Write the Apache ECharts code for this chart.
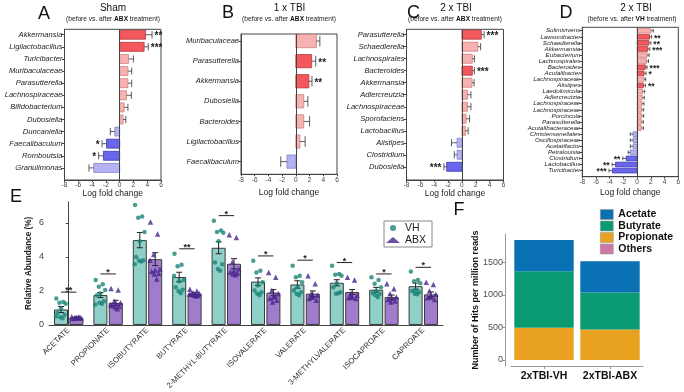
<!DOCTYPE html>
<html>
<head>
<meta charset="utf-8">
<title>Microbiome log fold change and SCFA</title>
<script src="https://cdn.jsdelivr.net/npm/echarts@6/dist/echarts.min.js"></script>
<style>
  html, body { margin: 0; padding: 0; background: #fff; }
  #chart { width: 684px; height: 392px; }
</style>
</head>
<body>
<div id="chart"></div>
<script>
const FONT = "'Liberation Sans', Arial, Helvetica, sans-serif";

// ---- A: Sham, before vs. after ABX
const shamNames = ['Akkermansia', 'Ligilactobacillus', 'Turicibacter', 'Muribaculaceae', 'Parasutterella', 'Lachnospiraceae',
  'Bifidobacterium', 'Dubosiella', 'Duncaniella', 'Faecalibaculum', 'Romboutsia', 'Granulimonas'];
const shamLfc = [3.75, 3.55, 1.3, 1.2, 1.2, 1.0, 0.65, 0.5, -0.7, -1.9, -2.35, -3.75];
const shamErr = [0.95, 0.6, 0.7, 0.55, 0.55, 0.7, 0.55, 0.4, 0.65, 0.65, 0.7, 0.7];
const shamSig = ['**', '***', '', '', '', '', '', '', '', '*', '*', ''];

// ---- B: 1 x TBI, before vs. after ABX
const tbi1Names = ['Muribaculaceae', 'Parasutterella', 'Akkermansia', 'Dubosiella', 'Bacteroides', 'Ligilactobacillus', 'Faecalibaculum'];
const tbi1Lfc = [3.0, 2.3, 1.9, 1.15, 1.15, 0.6, -1.3];
const tbi1Err = [0.5, 0.6, 0.45, 0.6, 0.85, 0.75, 0.9];
const tbi1Sig = ['', '**', '**', '', '', '', ''];

// ---- C: 2 x TBI, before vs. after ABX
const tbi2AbxNames = ['Parasutterella', 'Schaedlerella', 'Lachnospirales', 'Bacteroides', 'Akkermansia', 'Adlercreutzia',
  'Lachnospiraceae', 'Sporofaciens', 'Lactobacillus', 'Alistipes', 'Clostridium', 'Dubosiella'];
const tbi2AbxLfc = [2.8, 2.3, 1.5, 1.5, 1.45, 0.8, 0.8, 0.6, 0.5, -0.7, -0.7, -2.2];
const tbi2AbxErr = [0.4, 0.4, 0.3, 0.3, 0.3, 0.5, 0.5, 0.5, 0.4, 0.8, 0.4, 0.4];
const tbi2AbxSig = ['***', '', '', '***', '', '', '', '', '', '', '', '***'];

// ---- D: 2 x TBI, before vs. after VH
const tbi2VhNames = ['Sulimivivens', 'Lawsonibacter', 'Schaedlerella', 'Akkermansia', 'Eubacterium', 'Lachnospirales',
  'Bacteroides', 'Acutalibacter', 'Lachnospiraceae', 'Alistipes', 'Laedolimicola', 'Adlercreutzia', 'Lachnospiraceae',
  'Lachnospiraceae', 'Porcincola', 'Parasutterella', 'Acutalibacteraceae', 'Christensenellales', 'Oscillospiraceae',
  'Acetatifactor', 'Petralouisia', 'Clostridium', 'Lactobacillus', 'Turicibacter'];
const tbi2VhLfc = [2.0, 1.8, 1.7, 1.55, 1.45, 1.35, 1.2, 1.0, 1.0, 0.9, 0.8, 0.75, 0.7, 0.65, 0.65, 0.6, 0.6,
  -0.6, -0.6, -0.6, -1.0, -1.6, -3.15, -3.6];
const tbi2VhErr = [0.35, 0.3, 0.3, 0.3, 0.3, 0.3, 0.25, 0.3, 0.25, 0.3, 0.3, 0.3, 0.3, 0.3, 0.3, 0.3, 0.3,
  0.4, 0.4, 0.4, 0.3, 0.5, 0.5, 0.5];
const tbi2VhSig = ['', '**', '**', '***', '', '', '***', '*', '', '**', '', '', '', '', '', '', '',
  '', '', '', '', '**', '**', '***'];

// ---- E: SCFA relative abundance
const scfaNames = ['ACETATE', 'PROPIONATE', 'ISOBUTYRATE', 'BUTYRATE', '2-METHYL-BUTYRATE', 'ISOVALERATE',
  'VALERATE', '3-METHYLVALERATE', 'ISOCAPROATE', 'CAPROATE'];
const vhMean = [0.91, 1.76, 4.99, 2.82, 4.54, 2.55, 2.38, 2.48, 2.07, 2.28];
const abxMean = [0.43, 1.30, 3.87, 1.84, 3.60, 1.90, 1.84, 1.94, 1.64, 1.80];
const vhSem = [0.18, 0.15, 0.45, 0.28, 0.35, 0.22, 0.22, 0.18, 0.14, 0.18];
const abxSem = [0.03, 0.15, 0.38, 0.06, 0.30, 0.18, 0.16, 0.14, 0.12, 0.14];
const vhPoints = [
  [1.55, 1.35, 1.3, 1.25, 0.95, 0.7, 0.6, 0.45, 0.4, 0.5],
  [2.65, 2.4, 2.25, 2.05, 1.85, 1.75, 1.4, 1.3, 1.25, 1.2],
  [7.05, 6.38, 6.3, 5.47, 4.93, 4.0, 3.8, 3.77, 3.73, 3.57],
  [4.19, 3.54, 3.46, 2.65, 2.57, 2.22, 2.07, 1.99, 1.87, 2.9],
  [6.13, 5.55, 5.47, 5.43, 4.93, 3.67, 3.57, 3.29, 3.19],
  [3.77, 3.19, 3.09, 2.51, 2.32, 2.03, 1.93, 1.84, 1.74],
  [3.48, 2.9, 2.8, 2.51, 2.22, 2.03, 1.93, 1.84, 1.74],
  [3.48, 3.0, 2.96, 2.9, 2.45, 2.22, 1.93, 1.84, 1.87],
  [2.8, 2.65, 2.42, 2.22, 1.99, 1.87, 1.84, 1.74, 1.64],
  [3.15, 2.65, 2.57, 2.45, 2.03, 1.99, 1.93, 1.84, 1.8]
];
const abxPoints = [
  [0.48, 0.45, 0.42, 0.4, 0.44, 0.38, 0.46, 0.41, 0.43],
  [2.15, 2.05, 1.4, 1.3, 1.25, 1.15, 1.1, 1.05, 0.95, 1.2],
  [6.05, 5.35, 4.15, 3.29, 3.23, 3.15, 3.03, 3.0, 2.7, 3.8],
  [2.1, 2.0, 1.9, 1.85, 1.8, 1.8, 1.75, 1.75, 1.7, 1.8],
  [5.3, 5.15, 3.7, 3.3, 3.2, 3.1, 3.05, 3.0, 2.95],
  [3.09, 2.8, 2.03, 1.84, 1.64, 1.55, 1.45, 1.35, 1.7],
  [2.9, 2.42, 1.84, 1.74, 1.64, 1.55, 1.45, 1.68],
  [2.8, 2.65, 1.84, 1.74, 1.64, 1.6, 1.55, 1.68],
  [2.42, 2.13, 1.84, 1.64, 1.55, 1.49, 1.41, 1.35],
  [2.51, 2.38, 1.99, 1.8, 1.68, 1.6, 1.49, 1.64]
];
const sigStars = ['**', '*', '', '**', '*', '*', '*', '*', '*', '*'];
const sigLevel = [1.93, 3.0, 0, 4.48, 6.43, 4.06, 3.81, 3.67, 3.0, 3.39];

// ---- F: hits per million reads
const fGroups = ['2xTBI-VH', '2xTBI-ABX'];
const fPropionate = [495, 470];
const fButyrate = [867, 567];
const fAcetate = [480, 480];
const fOthers = [0, 0];

// log fold change panels: layout only
const lfcPanels = [
  { names: shamNames, lfc: shamLfc, err: shamErr, sig: shamSig,
    left: 64.5, top: 29.3, width: 96.5, height: 150.7, yMin: -0.45, yMax: 12.0, font: 7.6, bar: 0.74, star: 10, nameGap: 9 },
  { names: tbi1Names, lfc: tbi1Lfc, err: tbi1Err, sig: tbi1Sig,
    left: 241, top: 34, width: 96, height: 140.3, yMin: -0.35, yMax: 6.63, font: 7.5, bar: 0.66, star: 10, nameGap: 14 },
  { names: tbi2AbxNames, lfc: tbi2AbxLfc, err: tbi2AbxErr, sig: tbi2AbxSig,
    left: 406.5, top: 29.3, width: 97, height: 150.7, yMin: -0.45, yMax: 12.1, font: 7.6, bar: 0.75, star: 10, nameGap: 9 },
  { names: tbi2VhNames, lfc: tbi2VhLfc, err: tbi2VhErr, sig: tbi2VhSig,
    left: 582.3, top: 27.3, width: 96, height: 149.4, yMin: -0.56, yMax: 24.0, font: 6.2, bar: 0.77, star: 8.5, nameGap: 11 }
];

function lfcColor(v, star) {
  if (v >= 0) return star ? ['#f2585c', '#b8383c'] : ['#f6b1b1', '#d08080'];
  return star ? ['#6a66ec', '#3b37b5'] : ['#b4b2f3', '#8280c8'];
}

function lfcRender(p) {
  return function (params, api) {
    const v = api.value(0), k = api.value(1), e = api.value(2);
    const dir = v >= 0 ? 1 : -1;
    const base = api.coord([0, k]);
    const end = api.coord([v, k]);
    const tip = api.coord([v + dir * e, k]);
    const unit = api.size([0, 1])[1];
    const h = unit * p.bar;
    const cap = h * 0.8;
    const c = lfcColor(v, p.sig[k]);
    const ln = { stroke: '#333', lineWidth: 0.8 };
    const kids = [
      { type: 'rect', shape: { x: Math.min(base[0], end[0]), y: end[1] - h / 2, width: Math.abs(end[0] - base[0]), height: h },
        style: { fill: c[0], stroke: c[1], lineWidth: 0.8 } },
      { type: 'line', shape: { x1: end[0], y1: end[1], x2: tip[0], y2: tip[1] }, style: ln },
      { type: 'line', shape: { x1: tip[0], y1: tip[1] - cap / 2, x2: tip[0], y2: tip[1] + cap / 2 }, style: ln }
    ];
    if (p.sig[k]) {
      kids.push({ type: 'text', x: tip[0] + dir * 2.5, y: tip[1] + p.star * 0.18,
        style: { text: p.sig[k], font: 'bold ' + p.star + 'px ' + FONT, fill: '#222',
          align: dir > 0 ? 'left' : 'right', verticalAlign: 'middle' } });
    }
    return { type: 'group', children: kids };
  };
}

const grids = [], xAxes = [], yAxes = [], series = [];

lfcPanels.forEach((p, i) => {
  grids.push({ left: p.left, top: p.top, width: p.width, height: p.height, show: true,
    borderColor: '#444', borderWidth: 1, backgroundColor: 'transparent' });
  xAxes.push({
    type: 'value', gridIndex: i, min: -8, max: 6, interval: 2,
    axisLine: { show: true, onZero: false, lineStyle: { color: '#444', width: 1 } },
    axisTick: { show: true, length: 2, lineStyle: { color: '#444' } },
    axisLabel: { fontSize: 6.5, color: '#444', margin: 2, fontFamily: FONT },
    splitLine: { show: false },
    name: 'Log fold change', nameLocation: 'middle', nameGap: p.nameGap, nameMoveOverlap: false,
    nameTextStyle: { fontSize: 8.5, color: '#222', fontFamily: FONT }
  });
  yAxes.push({
    type: 'value', gridIndex: i, inverse: true, min: p.yMin, max: p.yMax,
    axisLine: { show: true, onZero: false, lineStyle: { color: '#444', width: 1 } },
    axisTick: { show: true, length: 2.5, customValues: p.names.map((n, k) => k), lineStyle: { color: '#444' } },
    axisLabel: { show: true, customValues: p.names.map((n, k) => k), formatter: (v) => p.names[v] || '',
      fontSize: p.font, fontStyle: 'italic', color: '#222', margin: 2, fontFamily: FONT },
    splitLine: { show: false }
  });
  series.push({
    type: 'custom', name: 'lfc' + i, xAxisIndex: i, yAxisIndex: i, clip: false,
    renderItem: lfcRender(p),
    encode: { x: 0, y: 1 },
    data: p.lfc.map((v, k) => [v, k, p.err[k]]),
    markLine: { silent: true, symbol: 'none', label: { show: false },
      lineStyle: { color: '#444', width: 1, type: 'solid' }, data: [{ xAxis: 0 }] },
    z: 3
  });
});

// ---- E
const eGrid = { left: 49, top: 201.7, width: 394, height: 125 };
const eBarW = 14;
const eShiftPx = eBarW * 1.1 / 2;
const eShift = eShiftPx / (eGrid.width / scfaNames.length);
const jitter = [-0.12, 0.06, -0.04, 0.12, 0, -0.09, 0.09, -0.02, 0.04, -0.13];

grids.push(Object.assign({ show: false }, eGrid));
xAxes.push({
  type: 'category', gridIndex: 4, data: scfaNames,
  axisLine: { show: true, onZero: false, lineStyle: { color: '#444', width: 1 } },
  axisTick: { show: false },
  axisLabel: { interval: 0, rotate: 45, fontSize: 7.8, color: '#333', margin: 4, fontFamily: FONT }
});
xAxes.push({ type: 'value', gridIndex: 4, min: -0.5, max: scfaNames.length - 0.5, show: false, position: 'top' });
yAxes.push({
  type: 'value', gridIndex: 4, min: 0, max: 7.25,
  axisLine: { show: true, lineStyle: { color: '#444', width: 1 } },
  axisTick: { show: true, length: 3, customValues: [0, 2, 4, 6], lineStyle: { color: '#444' } },
  axisLabel: { customValues: [0, 2, 4, 6], fontSize: 9, color: '#444', margin: 5, fontFamily: FONT },
  splitLine: { show: false },
  name: 'Relative Abundance (%)', nameLocation: 'middle', nameGap: 16, nameMoveOverlap: false,
  nameTextStyle: { fontSize: 8.2, fontWeight: 'bold', color: '#222', fontFamily: FONT }
});

function semRender(side) {
  return function (params, api) {
    const g = api.value(0), m = api.value(1), s = api.value(2);
    const top = api.coord([g, m + s]);
    const bot = api.coord([g, m - s]);
    const x = top[0] + side * eShiftPx;
    const st = { stroke: '#222', lineWidth: 1 };
    return { type: 'group', children: [
      { type: 'line', shape: { x1: x, y1: top[1], x2: x, y2: bot[1] }, style: st },
      { type: 'line', shape: { x1: x - 3, y1: top[1], x2: x + 3, y2: top[1] }, style: st },
      { type: 'line', shape: { x1: x - 3, y1: bot[1], x2: x + 3, y2: bot[1] }, style: st }
    ] };
  };
}

function spread(groups, side) {
  const out = [];
  groups.forEach((pts, g) => pts.forEach((v, k) => {
    out.push([g + side * eShift + jitter[k % jitter.length], v]);
  }));
  return out;
}

series.push(
  { type: 'bar', name: 'VH mean', xAxisIndex: 4, yAxisIndex: 4, data: vhMean, barWidth: eBarW, barGap: '10%',
    itemStyle: { color: '#8fd0c8', borderColor: '#3a3a3a', borderWidth: 1 }, z: 2 },
  { type: 'bar', name: 'ABX mean', xAxisIndex: 4, yAxisIndex: 4, data: abxMean, barWidth: eBarW, barGap: '10%',
    itemStyle: { color: '#9f7ccc', borderColor: '#3a3a3a', borderWidth: 1 }, z: 2 },
  { type: 'custom', name: 'VH sem', xAxisIndex: 4, yAxisIndex: 4, renderItem: semRender(-1), encode: { x: 0, y: 1 },
    data: vhMean.map((m, g) => [g, m, vhSem[g]]), z: 3 },
  { type: 'custom', name: 'ABX sem', xAxisIndex: 4, yAxisIndex: 4, renderItem: semRender(1), encode: { x: 0, y: 1 },
    data: abxMean.map((m, g) => [g, m, abxSem[g]]), z: 3 },
  { type: 'scatter', name: 'VH', xAxisIndex: 5, yAxisIndex: 4, data: spread(vhPoints, -1),
    symbol: 'circle', symbolSize: 4.5, itemStyle: { color: '#1a8476' }, z: 4 },
  { type: 'scatter', name: 'ABX', xAxisIndex: 5, yAxisIndex: 4, data: spread(abxPoints, 1),
    symbol: 'triangle', symbolSize: 5.5, itemStyle: { color: '#47258c' }, z: 4 },
  { type: 'custom', name: 'sig', xAxisIndex: 4, yAxisIndex: 4, encode: { x: 0, y: 1 }, z: 4,
    data: sigLevel.map((h, g) => [g, h]).filter((d) => sigStars[d[0]]),
    renderItem: function (params, api) {
      const g = api.value(0);
      const c = api.coord([g, api.value(1)]);
      return { type: 'group', children: [
        { type: 'line', shape: { x1: c[0] - eShiftPx, y1: c[1], x2: c[0] + eShiftPx, y2: c[1] },
          style: { stroke: '#222', lineWidth: 1 } },
        { type: 'text', x: c[0], y: c[1] - 1.5,
          style: { text: sigStars[g], font: 'bold 9px ' + FONT, fill: '#222', align: 'center', verticalAlign: 'middle' } }
      ] };
    } }
);

// ---- F
grids.push({ left: 511, top: 234, width: 132, height: 132, show: false });
xAxes.push({
  type: 'category', gridIndex: 5, data: fGroups,
  axisLine: { show: true, onZero: false, lineStyle: { color: '#999', width: 1 } },
  axisTick: { show: true, alignWithLabel: true, length: 3, lineStyle: { color: '#999' } },
  axisLabel: { interval: 0, hideOverlap: false, fontSize: 10.5, fontWeight: 'bold', color: '#111', margin: 5, fontFamily: FONT }
});
yAxes.push({
  type: 'value', gridIndex: 5, min: -92, max: 1934, offset: 6,
  axisLine: { show: true, lineStyle: { color: '#999', width: 1 } },
  axisTick: { show: true, length: 3, customValues: [0, 500, 1000, 1500], lineStyle: { color: '#999' } },
  axisLabel: { customValues: [0, 500, 1000, 1500], formatter: (v) => String(v),
    fontSize: 9, color: '#4d4d4d', margin: 2, fontFamily: FONT },
  splitLine: { show: false },
  name: 'Number of Hits per million reads', nameLocation: 'middle', nameGap: 25, nameMoveOverlap: false,
  nameTextStyle: { fontSize: 9, fontWeight: 'bold', color: '#111', fontFamily: FONT }
});
[['Propionate', fPropionate, '#e8a21f'], ['Butyrate', fButyrate, '#0b9b72'],
 ['Acetate', fAcetate, '#0a71b4'], ['Others', fOthers, '#cc79a7']].forEach(([name, vals, color]) => {
  series.push({ type: 'bar', name, xAxisIndex: 6, yAxisIndex: 5, stack: 'hits', data: vals,
    barWidth: '90%', itemStyle: { color }, z: 2 });
});

// titles and panel letters
const letter = (t, x, y) => ({ type: 'text', x, y,
  style: { text: t, font: '18px ' + FONT, fill: '#111', align: 'center', verticalAlign: 'middle' } });
const title = (t, x) => ({ type: 'text', x, y: 8,
  style: { text: t, font: '10px ' + FONT, fill: '#111', align: 'center', verticalAlign: 'middle' } });
const subtitle = (grp, x) => ({ type: 'text', x, y: 19.3,
  style: { text: '{n|(before vs. after }{b|' + grp + '}{n| treatment)}', align: 'center', verticalAlign: 'middle',
    rich: { n: { fontSize: 6.6, fontFamily: FONT, fill: '#222' },
            b: { fontSize: 6.6, fontFamily: FONT, fontWeight: 'bold', fill: '#111' } } } });

const chart = echarts.init(document.getElementById('chart'));
chart.setOption({
  animation: false,
  backgroundColor: '#fff',
  textStyle: { fontFamily: FONT },
  grid: grids,
  xAxis: xAxes,
  yAxis: yAxes,
  series: series,
  legend: [
    { data: [{ name: 'VH', icon: 'circle' }, { name: 'ABX', icon: 'triangle' }], orient: 'vertical',
      left: 384, top: 221, padding: [1.5, 6, 1.5, 2], itemWidth: 14, itemHeight: 6, itemGap: 1,
      borderColor: '#888', borderWidth: 1, selectedMode: false,
      textStyle: { fontSize: 10.5, color: '#222', lineHeight: 11, fontFamily: FONT } },
    { data: ['Acetate', 'Butyrate', 'Propionate', 'Others'], orient: 'vertical', left: 600, top: 209,
      padding: 0, itemWidth: 13, itemHeight: 10, itemGap: 0.5, icon: 'rect', selectedMode: false,
      itemStyle: { borderColor: '#999', borderWidth: 0.6 },
      textStyle: { fontSize: 10.5, fontWeight: 'bold', color: '#111', lineHeight: 10, fontFamily: FONT } }
  ],
  graphic: [
    letter('A', 44, 14), letter('B', 228, 13), letter('C', 413.5, 13), letter('D', 566, 13),
    letter('E', 16, 197), letter('F', 459, 210),
    title('Sham', 113), title('1 x TBI', 289.5), title('2 x TBI', 456), title('2 x TBI', 636),
    subtitle('ABX', 113), subtitle('ABX', 289), subtitle('ABX', 455), subtitle('VH', 632)
  ]
});
</script>
</body>
</html>
